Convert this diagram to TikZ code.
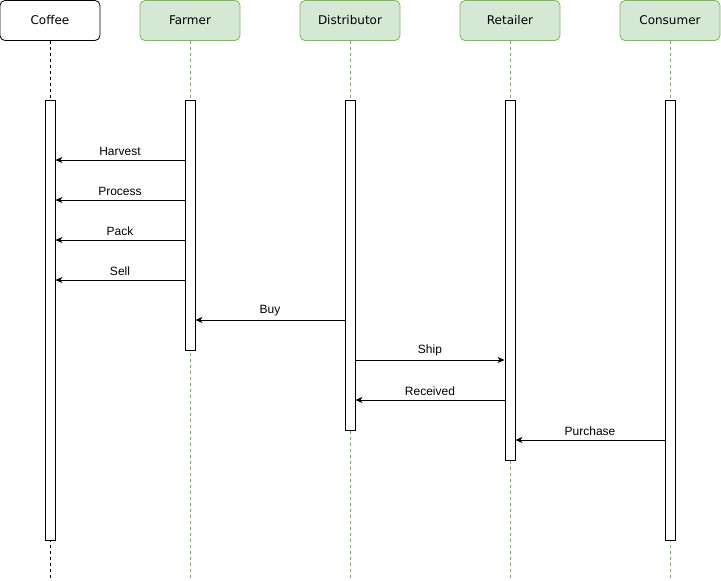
\documentclass[tikz,border=0pt]{standalone}
\usepackage{fontspec}
\setmainfont{Liberation Sans}
\newfontfamily\headfont{DejaVu Sans}
\usepackage{tikz}
\usetikzlibrary{arrows.meta}

\definecolor{leafgreen}{HTML}{D5E8D4}
\definecolor{leafedge}{HTML}{82B366}

\tikzset{
	head/.style={draw,rounded corners=5pt,minimum width=100pt,minimum height=40pt,font=\headfont\fontsize{12}{14}\selectfont,line width=0.8pt},
	greenhead/.style={head,fill=leafgreen,draw=leafedge},
	bar/.style={draw,fill=white,minimum width=10pt,inner sep=0pt,line width=0.8pt},
	life/.style={dashed,dash pattern=on 3pt off 3pt,line width=0.8pt},
	msg/.style={-{Stealth[length=7pt,width=6pt,inset=2pt]},line width=0.8pt},
	lbl/.style={font=\fontsize{12}{14}\selectfont,inner sep=1pt,anchor=south}
}

\begin{document}
\begin{tikzpicture}[x=1pt,y=-1pt]
		\useasboundingbox (0,0) rectangle (721,581);
		% participants
		\node[head] (coffee) at (50,20.5) {Coffee};
		\node[greenhead] (farmer) at (190,20.5) {Farmer};
		\node[greenhead] (distributor) at (350,20.5) {Distributor};
		\node[greenhead] (retailer) at (510,20.5) {Retailer};
		\node[greenhead] (consumer) at (670,20.5) {Consumer};

		% lifelines
		\draw[life] (coffee.south) -- (50,578);
		\foreach \n/\x in {farmer/190,distributor/350,retailer/510,consumer/670} {
			\draw[life,leafedge] (\n.south) -- (\x,578);
		}

		% activation bars
		\node[bar,minimum height=440pt] (coffeebar) at (50,320) {};
		\node[bar,minimum height=250pt] (farmerbar) at (190,225) {};
		\node[bar,minimum height=330pt] (distbar) at (350,265) {};
		\node[bar,minimum height=360pt] (retailbar) at (510,280) {};
		\node[bar,minimum height=440pt] (consbar) at (670,320) {};

		% messages
		\foreach \y/\t in {160/Harvest,200/Process,240/Pack,280/Sell} {
			\draw[msg] (farmerbar.west |- 0,\y) -- node[lbl,above=3pt] {\t} (coffeebar.east |- 0,\y);
		}
		\draw[msg] (distbar.west |- 0,320) -- node[lbl,above=3pt] {Buy} (farmerbar.east |- 0,320);
		\draw[msg] (distbar.east |- 0,360) -- node[lbl,above=3pt] {Ship} (retailbar.west |- 0,360);
		\draw[msg] (retailbar.west |- 0,400) -- node[lbl,above=3pt] {Received} (distbar.east |- 0,400);
		\draw[msg] (consbar.west |- 0,440) -- node[lbl,above=3pt] {Purchase} (retailbar.east |- 0,440);
\end{tikzpicture}
\end{document}
